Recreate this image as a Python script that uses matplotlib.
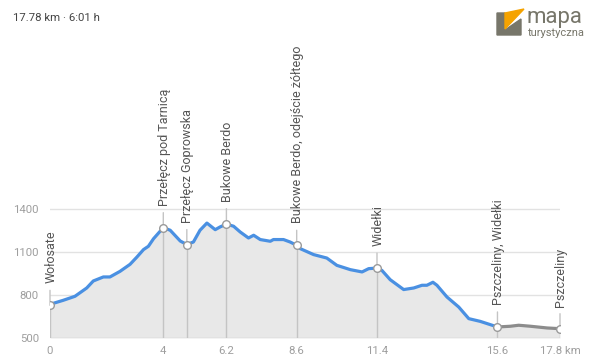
import matplotlib
matplotlib.use("Agg")
import matplotlib.pyplot as plt
from matplotlib.patches import Polygon
import numpy as np

plt.rcParams['font.family'] = ['Roboto', 'DejaVu Sans']

# Profil wysokości (km, m n.p.m.)
dist = [0.0, 0.46, 0.87, 1.28, 1.51, 1.86, 2.09, 2.44, 2.79, 3.03, 3.26, 3.43, 3.61,
        3.95, 4.19, 4.54, 4.77, 5.0, 5.23, 5.47, 5.76, 5.93, 6.15, 6.4, 6.63, 6.92,
        7.1, 7.33, 7.68, 7.79, 8.14, 8.37, 8.6, 8.72, 9.19, 9.65, 10.0, 10.47, 10.88,
        11.11, 11.4, 11.57, 11.86, 12.33, 12.68, 12.97, 13.14, 13.35, 13.49, 13.84,
        14.25, 14.6, 15.0, 15.6]
elev = [735, 763, 791, 849, 898, 926, 926, 965, 1014, 1065, 1117, 1140, 1193,
        1270, 1252, 1177, 1152, 1170, 1252, 1302, 1256, 1275, 1295, 1280, 1240, 1198,
        1217, 1187, 1175, 1187, 1187, 1170, 1147, 1124, 1082, 1058, 1007, 977, 961,
        984, 988, 972, 907, 838, 849, 868, 868, 889, 868, 786,
        716, 635, 616, 577]
# odcinek szary (bez oznaczenia)
dist2 = [15.6, 16.05, 16.34, 16.75, 17.33, 17.78]
elev2 = [577, 582, 589, 582, 570, 565]

wp_names = ["Wołosate", "Przełęcz pod Tarnicą", "Przełęcz Goprowska", "Bukowe Berdo",
            "Bukowe Berdo, odejście żółtego", "Widełki", "Pszczeliny, Widełki", "Pszczeliny"]
wp_dist = [0.0, 3.95, 4.77, 6.15, 8.6, 11.4, 15.6, 17.78]
wp_elev = [728, 1270, 1152, 1298, 1147, 988, 577, 565]

xticks = [0.0, 3.95, 6.15, 8.6, 11.4, 15.6, 17.78]
xlabels = ["0", "4", "6.2", "8.6", "11.4", "15.6", "17.8 km"]
yticks = [500, 800, 1100, 1400]

fig = plt.figure(figsize=(6, 3.62), dpi=100)
ax = fig.add_axes([50 / 600, 24 / 362, 510 / 600, 308 / 362])
ax.set_xlim(0, 17.78)
ax.set_ylim(500, 500 + 308 / 0.1433)

alld = dist + dist2[1:]
alle = elev + elev2[1:]
ax.fill_between(alld, 500, alle, color='#e8e8e8', lw=0, zorder=1)
for y in yticks[1:]:
    ax.axhline(y, color='#e2e2e2', lw=1, zorder=0.5)
ax.axhline(500, color='#cccccc', lw=1, zorder=2)

ax.plot(dist, elev, color='#4a90e2', lw=2.3, solid_capstyle='round', zorder=4)
ax.plot(dist2, elev2, color='#8c8c8c', lw=2.3, solid_capstyle='round', zorder=4)

for name, d, e in zip(wp_names, wp_dist, wp_elev):
    ax.plot([d, d], [500, e], color='#c4c4c4', lw=1, zorder=3)
    ax.annotate('', xy=(d, e), xytext=(0, 15), textcoords='offset pixels',
                arrowprops=dict(arrowstyle='-', color='#c4c4c4', lw=1,
                                shrinkA=0, shrinkB=0), zorder=3)
    ax.annotate(name, xy=(d, e), xytext=(1, 22), textcoords='offset pixels',
                rotation=90, ha='center', va='bottom', fontsize=9,
                color='#555555', zorder=5)
    ax.plot(d, e, 'o', ms=5.5, mfc='white', mec='#9a9a9a', mew=1, zorder=6)

ax.set_xticks(xticks)
ax.set_xticklabels(xlabels)
ax.set_yticks(yticks)
ax.tick_params(length=0, labelsize=8.2, labelcolor='#9e9e9e')
ax.tick_params(axis='y', pad=8)
ax.tick_params(axis='x', pad=6)
for s in ax.spines.values():
    s.set_visible(False)
ax.patch.set_alpha(0)

fig.text(13 / 600, 1 - 18 / 362, "17.78 km · 6:01 h", fontsize=8.2,
         color='#444444', va='center', ha='left')

# logo
olive = '#77766a'
fig.patches.append(Polygon([(497 / 600, 1 - 13 / 362), (505 / 600, 1 - 13 / 362),
                            (505 / 600, 1 - 30 / 362), (521 / 600, 1 - 19 / 362),
                            (521 / 600, 1 - 35 / 362), (497 / 600, 1 - 35 / 362)],
                           closed=True, transform=fig.transFigure, color=olive))
fig.patches.append(Polygon([(505 / 600, 1 - 13 / 362), (524 / 600, 1 - 9 / 362),
                            (505 / 600, 1 - 29 / 362)],
                           closed=True, transform=fig.transFigure, color='#f5a300'))
fig.text(527 / 600, 1 - 23 / 362, "mapa", fontsize=16, color=olive,
         ha='left', va='baseline')
fig.text(528 / 600, 1 - 35.5 / 362, "turystyczna", fontsize=8, color=olive,
         ha='left', va='baseline')

fig.savefig("out.png", dpi=100)
